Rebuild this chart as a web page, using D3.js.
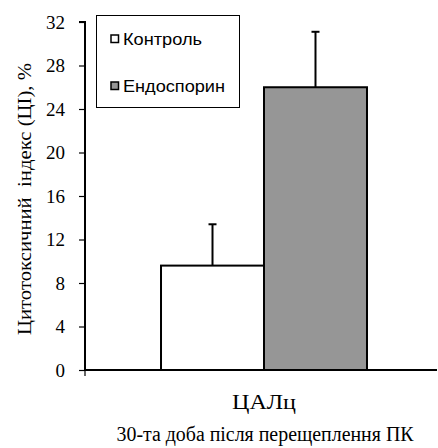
<!DOCTYPE html>
<html><head><meta charset="utf-8">
<script src="https://cdn.jsdelivr.net/npm/d3@7"></script>
<style>
body{margin:0;background:#fff}
svg{display:block}
svg text{font-family:"Liberation Serif","Times New Roman",serif}
svg text.legend{font-family:"Liberation Sans",Arial,sans-serif}
</style>
</head><body>
<script>
const categories = ["ЦАЛц"];
const seriesNames = ["Контроль", "Ендоспорин"];
const seriesValues = [[9.6], [26.0]];
const seriesErrors = [[3.8], [5.1]];
const seriesColors = ["#ffffff", "#969696"];
const yTicks = [0, 4, 8, 12, 16, 20, 24, 28, 32];
const yLabel = "Цитотоксичний  індекс (ЦІ), %";
const xTitle = "30-та доба після перещеплення ПК";

const W = 438, H = 448;
const svg = d3.select("body").append("svg").attr("width", W).attr("height", H);

const x0 = 85, xEnd = 437;
const y = d3.scaleLinear().domain([0, 32]).range([370, 22]);
const xg = d3.scaleBand().domain(categories).range([85, 443]).paddingOuter(0.369).paddingInner(0);
const xs = d3.scaleBand().domain(seriesNames).range([0, xg.bandwidth()]).padding(0);

// y axis
const yAxis = d3.axisLeft(y).tickValues(yTicks).tickSize(6).tickPadding(14).tickFormat(d3.format("d"));
const ya = svg.append("g").attr("transform", `translate(${x0},0)`).call(yAxis);
ya.attr("font-family", null).attr("font-size", null);
ya.select(".domain").attr("stroke", "#000").attr("stroke-width", 2).attr("d", `M-6,${y(32)}H0V${y(0)}`);
ya.selectAll(".tick line").attr("stroke", "#000").attr("stroke-width", 1.2);
ya.selectAll(".tick text").style("font-size", "19px").attr("fill", "#000").attr("dy", "0.34em");

// bars
categories.forEach((c, ci) => {
  seriesNames.forEach((s, si) => {
    const v = seriesValues[si][ci], e = seriesErrors[si][ci];
    const bx = xg(c) + xs(s), bw = xs.bandwidth();
    const cx = bx + bw / 2;
    svg.append("line").attr("x1", cx).attr("x2", cx).attr("y1", y(v)).attr("y2", y(v + e))
      .attr("stroke", "#000").attr("stroke-width", 2);
    svg.append("line").attr("x1", cx - 4).attr("x2", cx + 4).attr("y1", y(v + e)).attr("y2", y(v + e))
      .attr("stroke", "#000").attr("stroke-width", 2);
    svg.append("rect").attr("x", bx).attr("y", y(v)).attr("width", bw).attr("height", y(0) - y(v))
      .attr("fill", seriesColors[si]).attr("stroke", "#000").attr("stroke-width", 2);
  });
});

// x axis
svg.append("line").attr("x1", x0 - 1).attr("x2", xEnd).attr("y1", y(0)).attr("y2", y(0))
  .attr("stroke", "#000").attr("stroke-width", 2);
svg.append("line").attr("x1", x0).attr("x2", x0).attr("y1", y(0)).attr("y2", y(0) + 6)
  .attr("stroke", "#000").attr("stroke-width", 1.2);

// category label
categories.forEach(c => {
  svg.append("text").attr("x", xg(c) + xg.bandwidth() / 2).attr("y", 409)
    .attr("text-anchor", "middle").style("font-size", "21px")
    .attr("textLength", 64).attr("lengthAdjust", "spacingAndGlyphs").text(c);
});
svg.append("text").attr("x", 265).attr("y", 441).attr("text-anchor", "middle")
  .style("font-size", "20px")
  .attr("textLength", 297).attr("lengthAdjust", "spacingAndGlyphs").text(xTitle);

// y label
svg.append("text").attr("transform", `translate(31,199) rotate(-90)`).attr("text-anchor", "middle")
  .style("font-size", "19px").style("white-space", "pre")
  .attr("textLength", 272).attr("lengthAdjust", "spacingAndGlyphs").text(yLabel);

// legend
const legendLen = [79, 102];
const lg = svg.append("g");
lg.append("rect").attr("x", 96.5).attr("y", 15.5).attr("width", 143).attr("height", 92)
  .attr("fill", "#fff").attr("stroke", "#000").attr("stroke-width", 1);
seriesNames.forEach((s, i) => {
  const yy = 45 + i * 47;
  lg.append("rect").attr("x", 111).attr("y", yy - 10).attr("width", 7.5).attr("height", 7.5)
    .attr("fill", seriesColors[i]).attr("stroke", "#000").attr("stroke-width", 1.5);
  lg.append("text").attr("class", "legend").attr("x", 123).attr("y", yy).style("font-size", "16px")
    .attr("textLength", legendLen[i]).attr("lengthAdjust", "spacingAndGlyphs").text(s);
});
</script>
</body></html>
